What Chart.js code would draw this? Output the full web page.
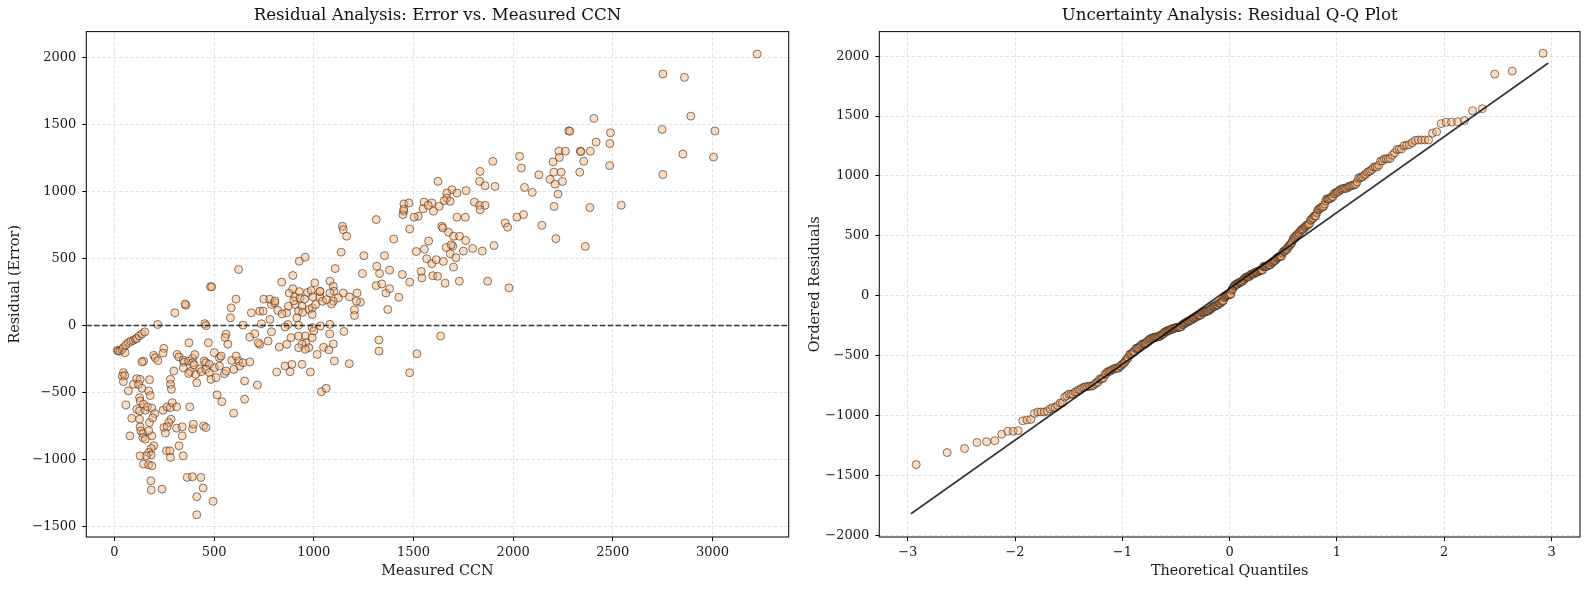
<!DOCTYPE html>
<html>
<head>
<meta charset="utf-8">
<script src="https://cdn.jsdelivr.net/npm/chart.js@4.4.1/dist/chart.umd.min.js"></script>
<style>
  html, body { margin: 0; padding: 0; background: #fff; }
  #wrap { position: relative; width: 1589px; height: 590px; }
  .box { position: absolute; top: 0; height: 590px; }
</style>
</head>
<body>
<div id="wrap">
  <div class="box" style="left:0;width:800px"><canvas id="resid"></canvas></div>
  <div class="box" style="left:800px;width:789px"><canvas id="qq"></canvas></div>
</div>
<script>
// measured CCN and residual (error), point by point
const measuredCcn = [
  14, 20, 28, 38, 45, 53, 58, 70, 82, 95, 106, 112, 124, 138, 152,
  359, 354, 303, 217, 248, 244, 197, 205, 146, 138, 218, 315, 324, 374,
  298, 45, 40, 52, 45, 112, 129, 95, 121, 138, 176, 70, 281, 281, 286, 172, 180,
  126, 129, 146, 112, 126, 155, 166, 188, 58, 202, 244, 264, 281, 290, 312,
  284, 273, 248, 378, 87, 126, 129, 133, 143, 176, 78, 143, 155, 188, 264, 312,
  340, 392, 396, 340, 324, 345, 197, 185, 172, 184, 160, 129, 146, 172, 188,
  261, 278, 281, 183, 185, 239, 365, 391, 434, 445, 413, 413, 495,
  346, 349, 372, 346, 380, 372, 392, 403, 392, 400, 428, 408, 413, 436,
  172, 192, 256,
  586, 582, 687, 729, 746, 780, 819, 788, 804, 864, 873, 907, 924, 915, 941, 975, 992, 992, 1009,
  454, 460, 645, 737, 870, 856, 924, 992, 1033, 560, 555, 569, 471, 704, 679, 788, 771, 729, 721,
  827, 864, 886, 924, 958, 961, 941, 975, 924, 958, 992, 1000, 1017,
  450, 459, 476, 459, 476, 484, 510, 501, 527, 527, 501, 552, 535, 560,
  589, 611, 623, 628, 645, 679, 653, 599, 515, 539, 653, 598, 717,
  814, 856, 881, 890, 941, 983, 1038, 1062, 447, 459, 841, 944,
  610, 749, 779, 805, 839, 895, 877, 895, 905, 900, 928, 931, 954, 969, 987, 995, 1005, 1031, 1031,
  957, 927, 623, 482, 488,
  2032, 1898, 2041, 1834, 1832, 1859, 1909, 1623, 2129, 2057, 2096, 1693, 1667, 1718, 1667, 1654,
  1684, 1764, 1806, 1831, 1859, 1834, 1553, 1592, 1629, 1600, 1548, 1524, 1503, 1452, 1477, 1451,
  1447, 1313, 1718, 1760, 1642, 1647, 1676, 1701, 1731, 1762, 1697, 1750, 1797, 1845, 1904, 1960,
  1972, 2019, 2052, 2144, 1481, 1401, 1576, 1555, 1514, 1664, 1689, 1684, 1713, 1566, 1592, 1614,
  1650, 1701, 1137, 1144, 1148, 1165, 1251, 1355, 1107, 1244, 1316, 1330, 1380, 1444, 1481, 1539,
  1542, 1597, 1621, 1659, 1730, 1872, 1979, 1081, 1098, 1101, 1081, 1148, 1123, 1098, 1089, 1031,
  1044, 1064, 1179, 1217, 1234, 1214, 1313, 1341, 1362, 1380, 1427, 1371, 1204, 1204, 1081, 1151,
  1098, 1049, 1076, 1103, 1178, 1327, 1327, 1517, 1481, 1636, 1080, 1574, 1451,
  3224, 2751, 2859, 2891, 2747, 3012, 2851, 3005, 2751, 2405, 2279, 2284, 2488, 2485, 2416,
  2229, 2262, 2337, 2340, 2387, 2232, 2200, 2354, 2204, 2241, 2334, 2484, 2185, 2247, 2210,
  2225, 2205, 2385, 2542, 2214, 2362
];
const residualErr = [
  -185, -190, -190, -178, -165, -202, -145, -127, -118, -110, -100, -96, -76, -62, -47,
  152, 160, 95, 8, -170, -205, -222, -240, -265, -272, -261, -215, -234, -128,
  -339, -351, -376, -372, -418, -396, -401, -438, -438, -468, -403, -487, -401, -438, -475, -487, -522,
  -537, -562, -587, -624, -636, -631, -606, -616, -592, -656, -631, -606, -611, -575, -606,
  -698, -723, -760, -606, -691, -698, -755, -785, -805, -723, -822, -835, -847, -822, -755, -765,
  -755, -770, -735, -822, -896, -971, -896, -916, -946, -964, -971, -971, -1033, -1038, -1045,
  -934, -934, -983, -1157, -1226, -1219, -1132, -1127, -1132, -1211, -1276, -1410, -1310,
  -258, -273, -264, -315, -343, -357, -244, -216, -278, -292, -323, -363, -427, -343,
  -784, -688, -801,
  132, 58, 95, 108, 108, 46, 113, 157, 170, 95, 145, 157, 108, 58, 145, 120, 132, 83, 157,
  14, 0, 3, 13, 8, -11, 3, -16, -3, -64, -89, -139, -128, -61, -86, -46, -115, -140, -128,
  -160, -140, -90, -78, -78, -128, -140, -165, -165, -177, -90, -40, -215,
  -264, -277, -289, -326, -351, -401, -388, -314, -301, -240, -202, -359, -227, -339,
  -259, -227, -264, -301, -277, -271, -413, -326, -517, -567, -549, -653, -443,
  -346, -301, -344, -289, -289, -346, -493, -468, -748, -760, 87, 98,
  197, 197, 197, 183, 324, 373, 242, 274, 214, 185, 253, 205, 197, 247, 261, 214, 318, 214, 253,
  510, 480, 418, 290, 289,
  1261, 1224, 1174, 1149, 1075, 1042, 1037, 1075, 1124, 1030, 993, 1013, 988, 988, 950, 931,
  926, 1006, 921, 896, 896, 864, 921, 914, 889, 852, 871, 815, 808, 907, 914, 852,
  827, 790, 808, 808, 740, 728, 695, 666, 666, 634, 592, 555, 575, 555, 597, 765,
  733, 808, 827, 747, 720, 645, 630, 569, 552, 582, 602, 535, 506, 498, 461, 491,
  478, 436, 547, 740, 715, 666, 521, 521, 425, 388, 442, 388, 413, 381, 324, 403,
  355, 372, 367, 316, 331, 331, 281, 331, 293, 256, 243, 243, 206, 181, 161, 256,
  181, 193, 214, 243, 174, 181, 298, 310, 243, 275, 211, 120, 117, 75, 9, -44,
  -137, -162, -181, -264, -284, -108, -190, -210, -352, -78, -62, 896, 866,
  2024, 1875, 1850, 1561, 1462, 1450, 1278, 1256, 1126, 1544, 1452, 1448, 1437, 1357, 1368,
  1300, 1300, 1300, 1296, 1300, 1253, 1220, 1225, 1143, 1143, 1143, 1193, 1090, 1074, 1054,
  980, 888, 880, 897, 648, 590
];

// axis limits and tick values as they appear in the figure
const ccnRange = [-141, 3382];
const ccnTicks = [0, 500, 1000, 1500, 2000, 2500, 3000];
const residRange = [-1576, 2191];
const residTicks = [-1500, -1000, -500, 0, 500, 1000, 1500, 2000];
const qqXRange = [-3.265, 3.265];
const qqXTicks = [-3, -2, -1, 0, 1, 2, 3];
const qqYRange = [-2015, 2205];
const qqYTicks = [-2000, -1500, -1000, -500, 0, 500, 1000, 1500, 2000];
// fitted reference line of the Q-Q panel, read at its two ends
const qqLineQ = [-2.97, 2.97];
const qqLineR = [-1821, 1943];

// Q-Q: sorted residuals against normal order-statistic medians (Filliben)
function normInv(p) {
  const a = [-39.69683028665376, 220.9460984245205, -275.9285104469687, 138.3577518672690, -30.66479806614716, 2.506628277459239];
  const b = [-54.47609879822406, 161.5858368580409, -155.6989798598866, 66.80131188771972, -13.28068155288572];
  const c = [-0.007784894002430293, -0.3223964580411365, -2.400758277161838, -2.549732539343734, 4.374664141464968, 2.938163982698783];
  const d = [0.007784695709041462, 0.3224671290700398, 2.445134137142996, 3.754408661907416];
  const tail = q => (((((c[0]*q+c[1])*q+c[2])*q+c[3])*q+c[4])*q+c[5]) / ((((d[0]*q+d[1])*q+d[2])*q+d[3])*q+1);
  if (p < 0.02425) return tail(Math.sqrt(-2 * Math.log(p)));
  if (p > 1 - 0.02425) return -tail(Math.sqrt(-2 * Math.log(1 - p)));
  const q = p - 0.5, r = q * q;
  return (((((a[0]*r+a[1])*r+a[2])*r+a[3])*r+a[4])*r+a[5])*q / (((((b[0]*r+b[1])*r+b[2])*r+b[3])*r+b[4])*r+1);
}
const sortedResid = residualErr.slice().sort((u, v) => u - v);
const n = sortedResid.length;
const qqPoints = sortedResid.map((r, i) => {
  let m;
  if (i === 0) m = 1 - Math.pow(0.5, 1 / n);
  else if (i === n - 1) m = Math.pow(0.5, 1 / n);
  else m = (i + 1 - 0.3175) / (n + 0.365);
  return { x: normInv(m), y: r };
});

const serif = "'DejaVu Serif', 'Liberation Serif', serif";
const minus = v => String(v).replace('-', '\u2212');

const frame = {
  id: 'frame',
  afterDatasetsDraw(chart) {
    const a = chart.chartArea, ctx = chart.ctx;
    ctx.save();
    ctx.strokeStyle = '#000';
    ctx.lineWidth = 1;
    ctx.strokeRect(a.left, a.top, a.right - a.left, a.bottom - a.top);
    ctx.restore();
  }
};

function axis(range, tickVals, title, fit, isX) {
  return {
    type: 'linear',
    min: range[0],
    max: range[1],
    afterBuildTicks: s => { s.ticks = tickVals.map(v => ({ value: v })); },
    border: { display: false, dash: [3.5, 2] },
    grid: { color: '#e2e2e2', lineWidth: 1, tickColor: '#000', tickLength: 4, tickWidth: 1, tickBorderDash: [] },
    ticks: {
      color: '#1a1a1a',
      padding: isX ? 4 : 6,
      maxRotation: 0,
      autoSkip: false,
      font: { family: serif, size: 13 },
      callback: v => minus(v)
    },
    title: {
      display: true,
      text: title,
      color: '#1a1a1a',
      font: { family: serif, size: 14.4 },
      padding: isX ? { top: 0, bottom: 10 } : { top: 7, bottom: 0 }
    },
    afterFit: fit
  };
}

function titleOpts(text) {
  return {
    display: true,
    text: text,
    fullSize: false,
    color: '#111',
    font: { family: serif, size: 16.6, weight: 'normal' },
    padding: { top: 6, bottom: 5.7 }
  };
}

const markerFill = 'rgba(250, 175, 112, 0.45)';
const markerEdge = 'rgba(55, 38, 28, 0.6)';

new Chart(document.getElementById('resid'), {
  type: 'scatter',
  data: {
    datasets: [
      {
        data: ccnRange.map(x => ({ x: x, y: 0 })),
        showLine: true,
        borderColor: 'rgba(0, 0, 0, 0.8)',
        borderWidth: 1.5,
        borderDash: [5.5, 2.4],
        pointRadius: 0,
        order: 0
      },
      {
        data: measuredCcn.map((x, i) => ({ x: x, y: residualErr[i] })),
        backgroundColor: markerFill,
        borderColor: markerEdge,
        borderWidth: 1,
        pointRadius: 4,
        order: 1
      }
    ]
  },
  options: {
    responsive: true,
    maintainAspectRatio: false,
    animation: false,
    devicePixelRatio: 1,
    layout: { padding: { left: 0, right: 11.3, top: 0, bottom: 0 } },
    plugins: {
      legend: { display: false },
      tooltip: { enabled: false },
      title: titleOpts('Residual Analysis: Error vs. Measured CCN')
    },
    scales: {
      x: axis(ccnRange, ccnTicks, 'Measured CCN', s => { s.height = 53; }, true),
      y: axis(residRange, residTicks, 'Residual (Error)', s => { s.width = 86.3; }, false)
    }
  },
  plugins: [frame]
});

new Chart(document.getElementById('qq'), {
  type: 'scatter',
  data: {
    datasets: [
      {
        data: qqLineQ.map((q, i) => ({ x: q, y: qqLineR[i] })),
        showLine: true,
        borderColor: 'rgba(0, 0, 0, 0.8)',
        borderWidth: 1.6,
        pointRadius: 0,
        order: 0
      },
      {
        data: qqPoints,
        backgroundColor: markerFill,
        borderColor: markerEdge,
        borderWidth: 1,
        pointRadius: 4,
        order: 1
      }
    ]
  },
  options: {
    responsive: true,
    maintainAspectRatio: false,
    animation: false,
    devicePixelRatio: 1,
    layout: { padding: { left: 0, right: 9, top: 0, bottom: 0 } },
    plugins: {
      legend: { display: false },
      tooltip: { enabled: false },
      title: titleOpts('Uncertainty Analysis: Residual Q-Q Plot')
    },
    scales: {
      x: axis(qqXRange, qqXTicks, 'Theoretical Quantiles', s => { s.height = 53; }, true),
      y: axis(qqYRange, qqYTicks, 'Ordered Residuals', s => { s.width = 79.3; }, false)
    }
  },
  plugins: [frame]
});
</script>
</body>
</html>
